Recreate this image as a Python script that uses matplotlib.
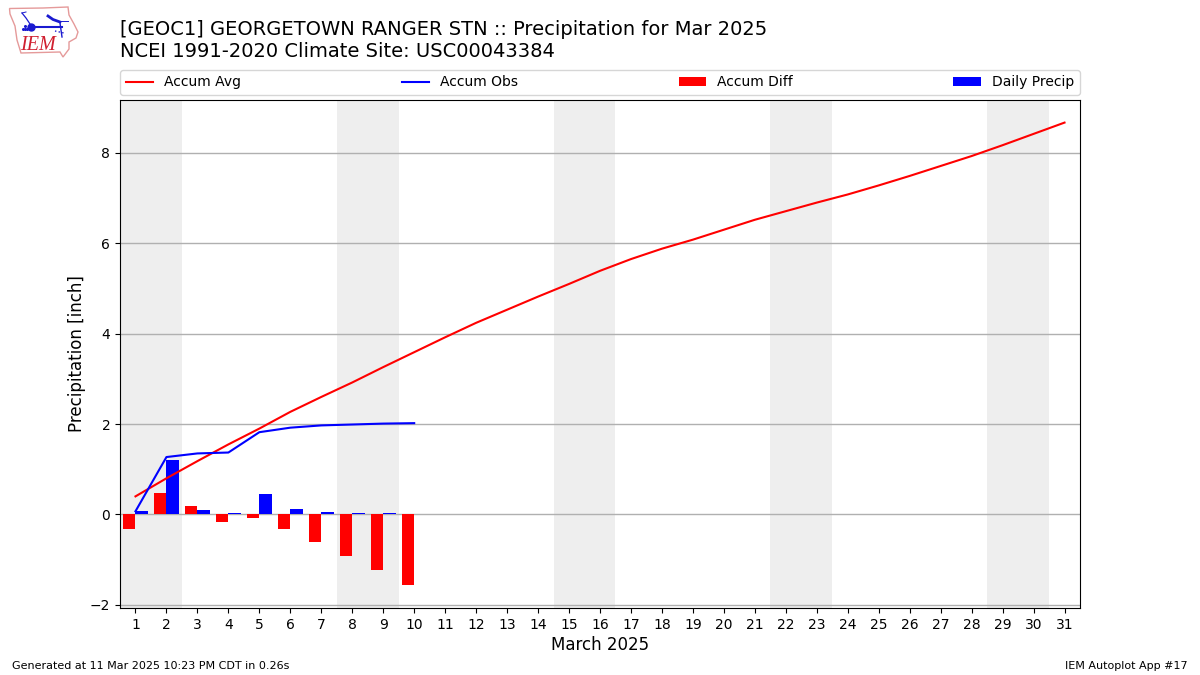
#!/usr/bin/env python3
"""Accumulated precipitation chart for Georgetown Ranger Stn, March 2025."""

import matplotlib
matplotlib.use('Agg')
import matplotlib.pyplot as plt
import numpy as np
from matplotlib.patches import Polygon

TITLE = ('[GEOC1] GEORGETOWN RANGER STN :: Precipitation for Mar 2025\n'
         'NCEI 1991-2020 Climate Site: USC00043384')

days = list(range(1, 32))
obs_days = list(range(1, 11))
accum_avg = [0.40, 0.80, 1.18, 1.55, 1.90, 2.27, 2.60, 2.92, 3.26, 3.59,
             3.92, 4.24, 4.53, 4.82, 5.10, 5.39, 5.65, 5.88, 6.08, 6.30,
             6.52, 6.71, 6.90, 7.08, 7.28, 7.49, 7.71, 7.93, 8.17, 8.42, 8.67]
accum_obs = [0.07, 1.27, 1.35, 1.37, 1.82, 1.92, 1.97, 1.99, 2.01, 2.02]
accum_diff = [-0.32, 0.47, 0.19, -0.17, -0.08, -0.32, -0.61, -0.92, -1.23, -1.56]
daily_precip = [0.07, 1.20, 0.10, 0.03, 0.45, 0.12, 0.055, 0.03, 0.03, 0.0]
weekend_starts = [0.5, 7.5, 14.5, 21.5, 28.5]
weekend_ends = [2.5, 9.5, 16.5, 23.5, 30.5]


def _draw_logo(fig):
    # rough copy of the IEM logo, axes coords are image pixels
    ax = fig.add_axes([0, 1 - 60 / 675, 85 / 1200, 60 / 675])
    ax.set_xlim(0, 85)
    ax.set_ylim(60, 0)
    ax.axis('off')
    outline = [(9.5, 8.5), (43, 8), (68, 7), (69, 15), (74, 24), (78, 32), (76, 38),
               (69, 42), (69, 49), (63, 57), (60, 52), (21, 53), (17, 40), (15, 26),
               (10, 14)]
    ax.add_patch(Polygon(outline, closed=True, fill=False, ec='#e59a9a', lw=1))
    blue = '#1a1ad0'
    ax.plot([31, 62], [26.5, 26.5], color=blue, lw=1.5)
    ax.plot([31], [26.5], 'o', color=blue, ms=5)
    ax.plot([48, 53, 60], [16, 19.5, 22], color=blue, lw=2)
    ax.plot([60, 68], [21, 21], color=blue, lw=0.7)
    ax.plot([60, 62], [23, 37], color=blue, lw=1)
    ax.plot([55, 64], [31, 33], color=blue, lw=1, ls=':')
    ax.plot([22, 26, 30], [13, 18, 24], color=blue, lw=0.9)
    ax.plot([22, 26], [13, 12], color=blue, lw=0.7)
    ax.plot([23, 25, 27, 25], [29, 29, 29, 26], 'o', color=blue, ms=1.2)
    ax.text(38, 46, 'IEM', color='#d02030', family='Liberation Serif', style='italic',
            fontsize=14.5, ha='center', va='center')


def main():
    fig = plt.figure(figsize=(12, 6.75), dpi=100)
    ax = fig.add_axes([120 / 1200, 1 - 608 / 675, 960 / 1200, 508 / 675])

    for start, end in zip(weekend_starts, weekend_ends):
        ax.axvspan(start, end, color='#eeeeee', lw=0, zorder=0)

    obs_x = np.array(obs_days)
    ax.plot(days, accum_avg, color='r', label='Accum Avg', zorder=3)
    ax.plot(obs_days, accum_obs, color='b', label='Accum Obs', zorder=3)
    ax.bar(obs_x - 0.2, accum_diff, width=0.4, color='r', label='Accum Diff', zorder=2)
    ax.bar(obs_x + 0.2, daily_precip, width=0.4, color='b', label='Daily Precip', zorder=2)

    ax.set_xlim(0.5, 31.5)
    ax.set_ylim(-2.07, 9.17)
    ax.set_xticks(days)
    ax.set_yticks([-2, 0, 2, 4, 6, 8])
    ax.grid(axis='y', color='#b0b0b0', lw=1, zorder=1)
    ax.set_axisbelow(True)
    ax.set_xlabel('March 2025', fontsize=12, labelpad=3.2)
    ax.set_ylabel('Precipitation [inch]', fontsize=12, labelpad=2.5)

    ax.legend(ncol=4, loc='lower left', mode='expand', borderaxespad=0,
              bbox_to_anchor=(0, 1.01, 1, 0.05), fontsize=10)

    fig.text(120 / 1200, 1 - 61 / 675, TITLE, fontsize=14, ha='left', va='bottom')
    fig.text(12 / 1200, 1 - 671 / 675, 'Generated at 11 Mar 2025 10:23 PM CDT in 0.26s',
             fontsize=8, ha='left', va='bottom')
    fig.text(1188 / 1200, 1 - 671 / 675, 'IEM Autoplot App #17',
             fontsize=8, ha='right', va='bottom')

    _draw_logo(fig)
    fig.savefig('out.png', dpi=100)


if __name__ == '__main__':
    main()
